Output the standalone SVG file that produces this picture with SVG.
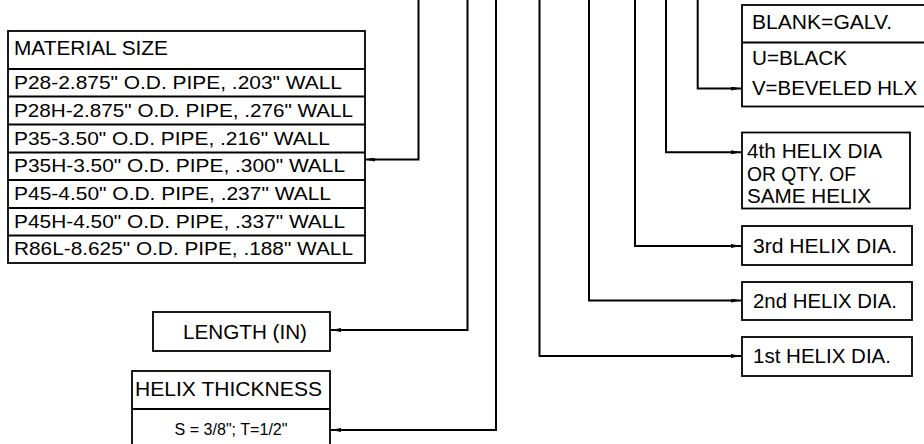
<svg xmlns="http://www.w3.org/2000/svg" width="924" height="444" viewBox="0 0 924 444">
<style>
.box{fill:#fff;stroke:#000;stroke-width:1.8}
.ln{fill:none;stroke:#000;stroke-width:1.8}
.conn{fill:none;stroke:#000;stroke-width:2;marker-end:url(#ah)}
text{font-family:"Liberation Sans",Arial,sans-serif;font-size:20px;fill:#000}
.tb{font-size:19px}
.sm{font-size:16px}
</style>
<defs>
<marker id="ah" viewBox="0 0 10 4" refX="10" refY="2" markerWidth="5" markerHeight="2" orient="auto" markerUnits="strokeWidth">
<path d="M0,0 L10,2 L0,4 z" fill="#000"/>
</marker>
</defs>
<rect width="924" height="444" fill="#fff"/>
<g id="connectors">
<path class="conn" d="M418.5,0 V159.5 H365"/>
<path class="conn" d="M467.5,0 V330 H331"/>
<path class="conn" d="M496,0 V430 H331"/>
<path class="conn" d="M539.5,0 V356 H741"/>
<path class="conn" d="M589,0 V300.5 H741"/>
<path class="conn" d="M635,0 V246 H741"/>
<path class="conn" d="M666,0 V152.3 H741"/>
<path class="conn" d="M697.7,0 V88.5 H741"/>
</g>
<g id="material-size">
<rect class="box" x="8" y="31" width="357" height="232"/>
<path class="ln" d="M8,69 H365 M8,96.5 H365 M8,124.5 H365 M8,152.5 H365 M8,180 H365 M8,208 H365 M8,235.5 H365"/>
<text x="14" y="55" textLength="154" lengthAdjust="spacingAndGlyphs">MATERIAL SIZE</text>
<text class="tb" x="14" y="88.5" textLength="328" lengthAdjust="spacingAndGlyphs">P28-2.875" O.D. PIPE, .203" WALL</text>
<text class="tb" x="14" y="116.5" textLength="339" lengthAdjust="spacingAndGlyphs">P28H-2.875" O.D. PIPE, .276" WALL</text>
<text class="tb" x="14" y="144.5" textLength="316" lengthAdjust="spacingAndGlyphs">P35-3.50" O.D. PIPE, .216" WALL</text>
<text class="tb" x="14" y="172" textLength="331" lengthAdjust="spacingAndGlyphs">P35H-3.50" O.D. PIPE, .300" WALL</text>
<text class="tb" x="14" y="200" textLength="317" lengthAdjust="spacingAndGlyphs">P45-4.50" O.D. PIPE, .237" WALL</text>
<text class="tb" x="14" y="227.5" textLength="331" lengthAdjust="spacingAndGlyphs">P45H-4.50" O.D. PIPE, .337" WALL</text>
<text class="tb" x="14" y="255" textLength="339" lengthAdjust="spacingAndGlyphs">R86L-8.625" O.D. PIPE, .188" WALL</text>
</g>
<g id="finish">
<rect class="box" x="742" y="5" width="200" height="101.5"/>
<path class="ln" d="M742,42.5 H924"/>
<text x="752" y="29" textLength="140" lengthAdjust="spacingAndGlyphs">BLANK=GALV.</text>
<text x="752" y="65" textLength="95" lengthAdjust="spacingAndGlyphs">U=BLACK</text>
<text x="752" y="95" textLength="165" lengthAdjust="spacingAndGlyphs">V=BEVELED HLX</text>
</g>
<g id="helix4">
<rect class="box" x="742" y="132.5" width="168" height="76"/>
<text x="747" y="158" textLength="135" lengthAdjust="spacingAndGlyphs">4th HELIX DIA</text>
<text x="747" y="181" textLength="109" lengthAdjust="spacingAndGlyphs">OR QTY. OF</text>
<text x="747" y="203" textLength="124" lengthAdjust="spacingAndGlyphs">SAME HELIX</text>
</g>
<g id="helix3">
<rect class="box" x="742" y="226" width="170" height="39"/>
<text x="753" y="253.3" textLength="144" lengthAdjust="spacingAndGlyphs">3rd HELIX DIA.</text>
</g>
<g id="helix2">
<rect class="box" x="742" y="282" width="170" height="38"/>
<text x="753" y="308.3" textLength="144" lengthAdjust="spacingAndGlyphs">2nd HELIX DIA.</text>
</g>
<g id="helix1">
<rect class="box" x="742" y="337" width="170" height="39"/>
<text x="753" y="362.7" textLength="138" lengthAdjust="spacingAndGlyphs">1st HELIX DIA.</text>
</g>
<g id="length">
<rect class="box" x="153" y="312" width="177" height="39"/>
<text x="183" y="338.5" textLength="124" lengthAdjust="spacingAndGlyphs">LENGTH (IN)</text>
</g>
<g id="helix-thickness">
<rect class="box" x="132" y="371" width="198" height="90"/>
<path class="ln" d="M132,409 H330"/>
<text x="135" y="395.7" textLength="187" lengthAdjust="spacingAndGlyphs">HELIX THICKNESS</text>
<text class="sm" x="174.5" y="435" textLength="113" lengthAdjust="spacingAndGlyphs">S = 3/8"; T=1/2"</text>
</g>
</svg>
